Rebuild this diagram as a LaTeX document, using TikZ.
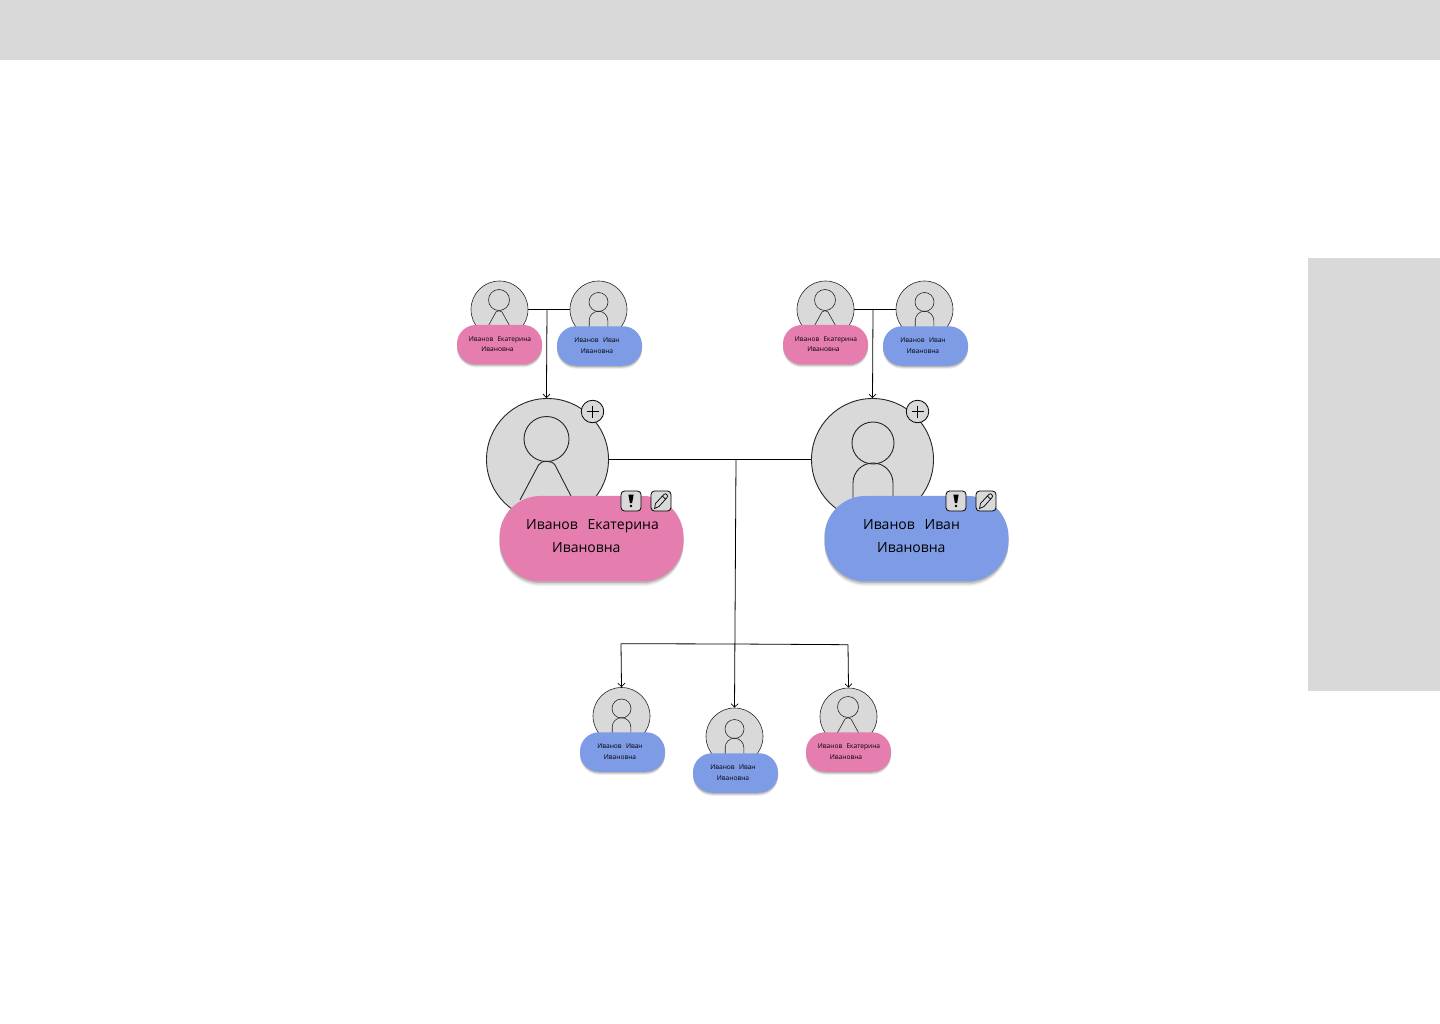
\documentclass[tikz,border=0pt]{standalone}
\usepackage{fontspec}
\setmainfont{Open Sans}
\usetikzlibrary{arrows.meta,calc}
\definecolor{panelc}{HTML}{D9D9D9}
\definecolor{pinkc}{HTML}{E57EAF}
\definecolor{bluec}{HTML}{7E9BE5}
\tikzset{
  panel/.style={fill=panelc,draw=none},
  link/.style={draw=black,line width=0.8pt},
  arrowlink/.style={link,-{Straight Barb[length=3.5pt,width=7pt,line width=0.7pt]}},
  avatar/.style={circle,draw=black!85,fill=panelc,inner sep=0pt,line width=#1},
  figline/.style={draw=black!85,line width=#1},
  softshadow/.style={
    preaction={fill=black,fill opacity=0.07,draw=none,transform canvas={yshift=-#1*1.5pt}},
    preaction={fill=black,fill opacity=0.10,draw=none,transform canvas={yshift=-#1*1.0pt}},
    preaction={fill=black,fill opacity=0.14,draw=none,transform canvas={yshift=-#1*0.5pt}}},
  bigcard/.style={rectangle,draw=none,fill=#1,minimum width=184pt,minimum height=85.5pt,inner sep=0pt,rounded corners=41pt,softshadow=3},
  smallcard/.style={rectangle,draw=none,fill=#1,minimum width=85pt,minimum height=39.5pt,inner sep=0pt,rounded corners=19pt,softshadow=2},
  bigtext/.style={inner sep=0pt,anchor=base,font=\fontsize{14pt}{17pt}\selectfont,text=black},
  smalltext/.style={inner sep=0pt,anchor=base,font=\fontsize{6.6pt}{8pt}\selectfont,text=black},
  plusbtn/.style={circle,draw=black,fill=panelc,line width=0.8pt,minimum size=22.5pt,inner sep=0pt},
  iconbtn/.style={rectangle,draw=black,fill=panelc,line width=0.8pt,minimum size=20pt,inner sep=0pt,rounded corners=3.5pt},
}
\newcommand{\femalesmall}[7]{%
  \node[avatar=0.6pt,minimum size=57pt] (#1) at (#2,#3) {};
  \node[avatar=0.6pt,minimum size=21pt] (#1h) at (#2-0.5,#3-9.5) {};
  \draw[figline=0.6pt] (#2-11.5,#3+17) -- (#2-3.5,#3+2.5) .. controls (#2-2,#3+0.7) and (#2+1,#3+0.7) .. (#2+2.5,#3+2.5) -- (#2+10.5,#3+17);
  \node[smallcard=pinkc] (#1c) at (#4,#5) {};
  \node[smalltext] (#1a) at (#4+#6,#5-3.6) {Иванов\hspace{0.65em}Екатерина};
  \node[smalltext] (#1b) at (#4+#7,#5+7.1) {Ивановна};
}
\newcommand{\malesmall}[7]{%
  \node[avatar=0.6pt,minimum size=57pt] (#1) at (#2,#3) {};
  \node[avatar=0.6pt,minimum size=19pt] (#1h) at (#2,#3-7.5) {};
  \draw[figline=0.6pt] (#2-9.3,#3+18) -- (#2-9.3,#3+11) arc[start angle=180,end angle=0,x radius=9.3pt,y radius=9.3pt] -- (#2+9.3,#3+18);
  \node[smallcard=bluec] (#1c) at (#4,#5) {};
  \node[smalltext] (#1a) at (#4+#6,#5-3.6) {Иванов\hspace{0.65em}Иван};
  \node[smalltext] (#1b) at (#4+#7,#5+7.1) {Ивановна};
}
\newcommand{\iconset}[2]{%
  \node[iconbtn] (ex#1) at (#2,501) {};
  \fill[black,shift={(ex#1.center)}] (-2.6,-6.3) -- (2.6,-6.3) -- (1.1,2.2) -- (-1.1,2.2) -- cycle;
  \fill[black,shift={(ex#1.center)}] (0,5) circle[radius=1.4pt];
  \node[iconbtn] (pen#1) at (#2+30,501) {};
  \draw[line width=0.7pt,line join=round,shift={(pen#1.center)}]
    (-6.5,7.5) -- (-5.5,2.5) -- (2.8,-6.5) .. controls (4,-7.6) and (5.2,-7.4) .. (6,-6.3) .. controls (6.8,-5.2) and (6.7,-4.2) .. (5.8,-3.2) -- (-2,5.5) -- cycle
    (1.4,-5) -- (4.4,-2);
}
\begin{document}
\begin{tikzpicture}[x=1pt,y=-1pt]
\useasboundingbox (0,0) rectangle (1440,1024);
\fill[white] (0,0) rectangle (1440,1024);
\node[panel,rectangle,minimum width=1440pt,minimum height=60pt,inner sep=0pt,anchor=north west] (topbar) at (0,0) {};
\node[panel,rectangle,minimum width=132pt,minimum height=433pt,inner sep=0pt,anchor=north west] (sidebar) at (1308,258) {};

% grandparents, left
\femalesmall{gfa}{499.5}{309.5}{499.5}{344.7}{0.5}{-2}
\malesmall{gma}{598.5}{309.5}{599.5}{346}{-2.5}{-2.5}
% grandparents, right
\femalesmall{gfb}{825.5}{309.5}{825.5}{344.7}{0.5}{-2}
\malesmall{gmb}{924.5}{309.5}{925.5}{346}{-2.5}{-2.5}

% main left
\node[avatar=0.9pt,minimum size=122pt] (mum) at (547.5,459.5) {};
\node[avatar=0.9pt,minimum size=45pt] (mumh) at (546.5,439) {};
\draw[figline=0.9pt] (520,500) -- (538.5,465) .. controls (541,460) and (552,460) .. (555,465) -- (573,500);
\node[plusbtn] (plusa) at (592.5,411.5) {};
\draw[line width=0.8pt] ($(plusa.center)+(-6,0)$) -- ($(plusa.center)+(6,0)$) ($(plusa.center)+(0,-6)$) -- ($(plusa.center)+(0,6)$);
\node[bigcard=pinkc] (mumc) at (591.5,538.7) {};
\node[bigtext] (muma) at (592.5,529) {Иванов\hspace{0.7em}Екатерина};
\node[bigtext] (mumb) at (586.3,552.3) {Ивановна};
\iconset{a}{631}

% main right
\node[avatar=0.9pt,minimum size=122pt] (dad) at (872.5,459.5) {};
\node[avatar=0.9pt,minimum size=42pt] (dadh) at (873,443) {};
\draw[figline=0.9pt] (853,500) -- (853,483) arc[start angle=180,end angle=0,x radius=20pt,y radius=20pt] -- (893,500);
\node[plusbtn] (plusb) at (917.5,411.5) {};
\draw[line width=0.8pt] ($(plusb.center)+(-6,0)$) -- ($(plusb.center)+(6,0)$) ($(plusb.center)+(0,-6)$) -- ($(plusb.center)+(0,6)$);
\node[bigcard=bluec] (dadc) at (916.5,538.7) {};
\node[bigtext] (dada) at (911.5,529) {Иванов\hspace{0.7em}Иван};
\node[bigtext] (dadb) at (911.3,552.3) {Ивановна};
\iconset{b}{956}

% children
\malesmall{kida}{621.5}{716}{622.5}{752}{-2.5}{-2.5}
\malesmall{kidb}{734.5}{736.5}{735.5}{773}{-2.5}{-2.5}
\femalesmall{kidc}{848.5}{716.5}{848.5}{752}{0.5}{-2.5}

% connectors
\coordinate (ja) at (547,309.5);
\coordinate (jb) at (873,309.5);
\coordinate (jm) at (736,459.5);
\coordinate (jc) at (735,644);
\coordinate (ka) at (621,643.7);
\coordinate (kc) at (848,644.7);
\draw[link] (gfa.east) -- (gma.west);
\draw[link] (gfb.east) -- (gmb.west);
\draw[arrowlink] (ja) -- (mum.91);
\draw[arrowlink] (jb) -- (dad.north);
\draw[link] (mum.east) -- (dad.west);
\draw[arrowlink] (jm) -- (kidb.north);
\draw[link] (ka) -- (jc) -- (kc);
\draw[arrowlink] (ka) -- (kida.north);
\draw[arrowlink] (kc) -- (kidc.north);
\end{tikzpicture}
\end{document}
